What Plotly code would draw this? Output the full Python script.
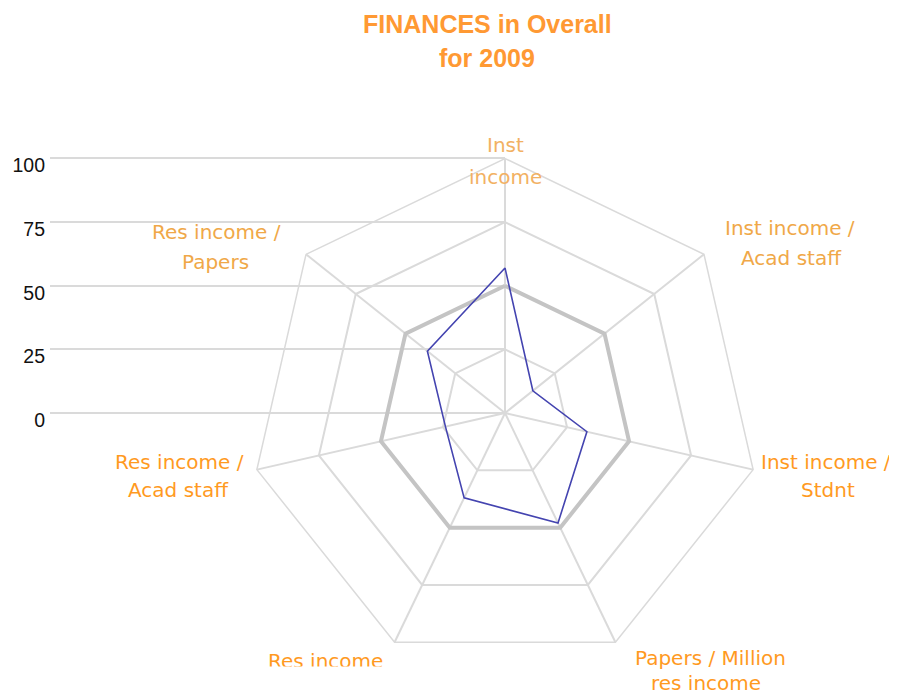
import plotly.graph_objects as go

# ---------------- data ----------------
categories = ["Inst income", "Inst income / Acad staff", "Inst income / Stdnt",
              "Papers / Million res income", "Res income", "Res income / Acad staff",
              "Res income / Papers"]
label_lines = [["Inst", "income"], ["Inst income /", "Acad staff"], ["Inst income /", "Stdnt"],
               ["Papers / Million", "res income"], ["Res income"], ["Res income /", "Acad staff"],
               ["Res income /", "Papers"]]
values_2009 = [57, 14, 33, 48, 37, 24, 39]
average = [50, 50, 50, 50, 50, 50, 50]
radial_ticks = [0, 25, 50, 75, 100]
radial_tick_labels = ["0", "25", "50", "75", "100"]
title_lines = ["FINANCES in Overall", "for 2009"]

# ---------------- layout geometry (screen pixels) ----------------
W, H = 897, 695
OFF = 8                      # page body margin
CX, CY, R = 505, 413, 254.5
GRID_LEFT = 50
PAD = 1.0                    # keeps the 0 / 100 value lines inside the axis range
label_pos = [
    [(505, 145), (505, 177)],
    [(790, 228), (791, 258)],
    [(826, 462), (828, 490)],
    [(710, 658), (706, 683)],
    [(325, 661)],
    [(179, 462), (178, 490)],
    [(216, 232), (215, 262)],
]
label_colors = ["#F2B163", "#F0A848", "#FF9A1F", "#FF9A1F", "#FF9A1F", "#FF9A1F", "#F0A848"]
title_pos = [(487, 24), (487, 58)]

GRID = "#DADADA"


def px(x):
    return (x - OFF) / W


def py(y):
    return 1 - (y - OFF) / H


closed_theta = categories + categories[:1]

fig = go.Figure()
fig.add_trace(go.Scatterpolar(
    r=average + average[:1], theta=closed_theta, mode="lines",
    line=dict(color="#C4C4C4", width=4), hoverinfo="skip", showlegend=False))
fig.add_trace(go.Scatterpolar(
    r=values_2009 + values_2009[:1], theta=closed_theta, mode="lines",
    line=dict(color="#4444B0", width=1.6), name="2009", showlegend=False))
# empty cartesian trace so the left value axis is drawn
fig.add_trace(go.Scatter(x=[], y=[], xaxis="x", yaxis="y", showlegend=False, hoverinfo="skip"))

annotations = []
for i, lines in enumerate(label_lines):
    for j, txt in enumerate(lines):
        x, y = label_pos[i][j]
        annotations.append(dict(
            x=px(x), y=py(y), xref="paper", yref="paper", text=txt, showarrow=False,
            xanchor="center", yanchor="middle",
            font=dict(family="DejaVu Sans", size=20, color=label_colors[i])))
# clip the bottom of the "Res income" label at the chart edge
annotations.append(dict(
    x=px(325), y=py(666), xref="paper", yref="paper", text="&nbsp;", showarrow=False,
    xanchor="center", yanchor="top", bgcolor="white", width=160, height=30,
    font=dict(size=10)))
for (x, y), txt in zip(title_pos, title_lines):
    annotations.append(dict(
        x=px(x), y=py(y), xref="paper", yref="paper", text="<b>" + txt + "</b>",
        showarrow=False, xanchor="center", yanchor="middle",
        font=dict(family="Liberation Sans", size=25, color="#FF9933")))

fig.update_layout(
    width=W, height=H,
    margin=dict(l=0, r=0, t=0, b=0, pad=0, autoexpand=False),
    paper_bgcolor="white", plot_bgcolor="rgba(0,0,0,0)",
    showlegend=False,
    polar=dict(
        domain=dict(x=[px(CX - R), px(CX + R)], y=[py(CY + R), py(CY - R)]),
        bgcolor="rgba(0,0,0,0)",
        gridshape="linear",
        radialaxis=dict(range=[0, 100], tickvals=radial_ticks[1:], showticklabels=False,
                        ticks="", showline=False, gridcolor=GRID, gridwidth=1.5),
        angularaxis=dict(direction="clockwise", rotation=90, showticklabels=False, ticks="",
                         gridcolor=GRID, gridwidth=1.5, showline=True, linecolor=GRID,
                         linewidth=1.5),
    ),
    xaxis=dict(domain=[px(GRID_LEFT), px(CX)], range=[0, 1], visible=False,
               fixedrange=True, automargin=False),
    yaxis=dict(domain=[py(CY + R * PAD / 100), py(CY - R * (100 + PAD) / 100)],
               range=[-PAD, 100 + PAD], tickvals=radial_ticks,
               ticktext=radial_tick_labels, showgrid=True, gridcolor=GRID, gridwidth=1.5,
               zeroline=False, showline=False, ticks="", ticklabelstandoff=4,
               ticklabelshift=7, fixedrange=True, automargin=False,
               tickfont=dict(family="Liberation Sans", size=19.5, color="#111111")),
    annotations=annotations,
)

fig.write_html("out.html")
